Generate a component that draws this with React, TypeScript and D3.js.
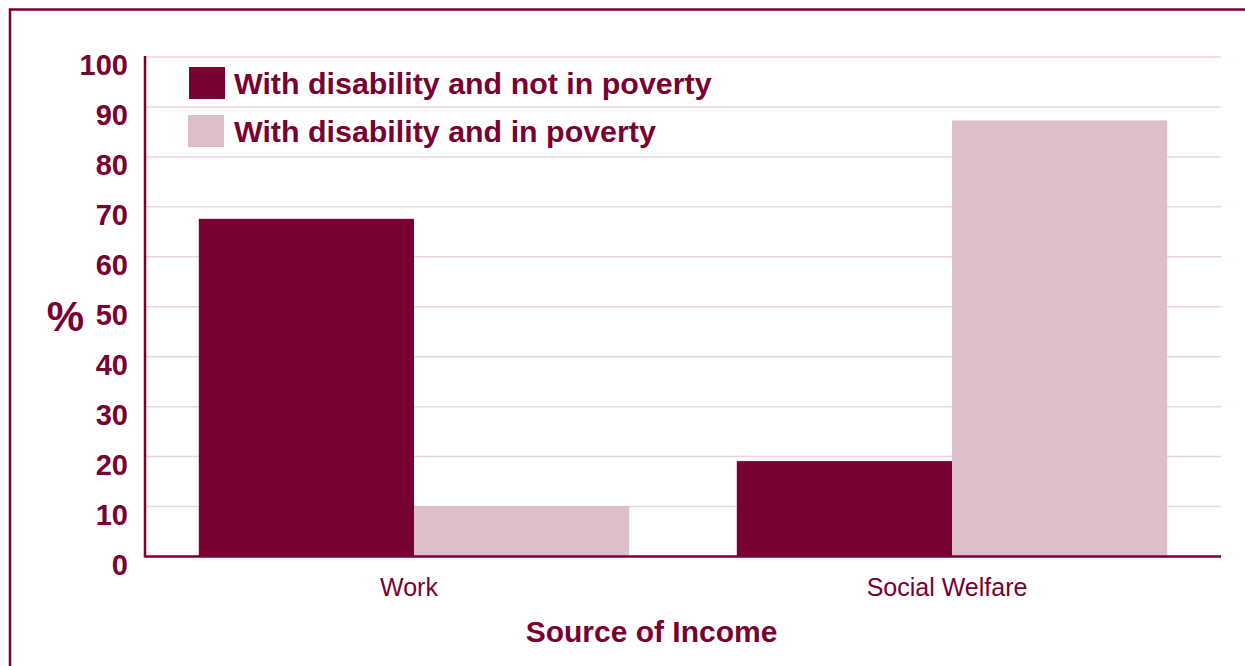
import React from "react";
import * as d3 from "d3";

const categories = ["Work", "Social Welfare"];
const seriesNames = ["With disability and not in poverty", "With disability and in poverty"];
const notInPoverty = [67.6, 19.1];
const inPoverty = [10.1, 87.3];
const yTicks = [0, 10, 20, 30, 40, 50, 60, 70, 80, 90, 100];

const DARK = "#780032";
const LIGHT = "#dcbfca";
const GRID = "#efd3dc";
const TEXT = "#780032";

export default function App() {
  const W = 1245, H = 666;
  const left = 145, right = 1221, top = 57, bottom = 556.5;
  const x = d3.scaleBand<string>().domain(categories).range([left, right]).paddingInner(0.2).paddingOuter(0.1);
  const xs = d3.scaleBand<number>().domain([0, 1]).range([0, x.bandwidth()]);
  const y = d3.scaleLinear().domain([0, 100]).range([bottom, top]);
  const series = [notInPoverty, inPoverty];
  const colors = [DARK, LIGHT];
  const font = "'Liberation Sans', Arial, sans-serif";
  return (
    <svg width={W} height={H} style={{ position: "absolute", left: 0, top: 0 }} fontFamily={font}>
      <rect x={0} y={0} width={W} height={H} fill="#fff" />
      <rect x={10} y={9.5} width={1300} height={800} fill="none" stroke={DARK} strokeWidth={2.5} />
      {yTicks.filter(t => t > 0).map(t => (
        <line key={t} x1={left} x2={right} y1={y(t)} y2={y(t)} stroke={GRID} strokeWidth={1.5} />
      ))}
      {categories.map((c, i) =>
        series.map((s, j) => (
          <rect key={c + j} x={(x(c) as number) + (xs(j) as number)} y={y(s[i])} width={xs.bandwidth()} height={y(0) - y(s[i])} fill={colors[j]} />
        ))
      )}
      <line x1={left} x2={left} y1={top - 1} y2={bottom + 1} stroke={DARK} strokeWidth={2.5} />
      <line x1={left} x2={right} y1={bottom} y2={bottom} stroke={DARK} strokeWidth={2.5} />
      {yTicks.map(t => (
        <text key={t} x={128} y={y(t) + 18} textAnchor="end" fontSize={29} fontWeight="bold" fill={TEXT}>{t}</text>
      ))}
      <text x={65.5} y={331} textAnchor="middle" fontSize={42} fontWeight="bold" fill={TEXT}>%</text>
      {categories.map(c => (
        <text key={c} x={(x(c) as number) + x.bandwidth() / 2 - 5} y={596} textAnchor="middle" fontSize={25} fill={TEXT}>{c}</text>
      ))}
      <text x={651.5} y={641.5} textAnchor="middle" fontSize={30} fontWeight="bold" fill={TEXT}>Source of Income</text>
      {seriesNames.map((n, j) => (
        <g key={n}>
          <rect x={189 - j} y={67 + j * 48} width={36} height={32} fill={colors[j]} />
          <text x={234} y={94 + j * 48} fontSize={30.4} fontWeight="bold" fill={TEXT}>{n}</text>
        </g>
      ))}
    </svg>
  );
}
